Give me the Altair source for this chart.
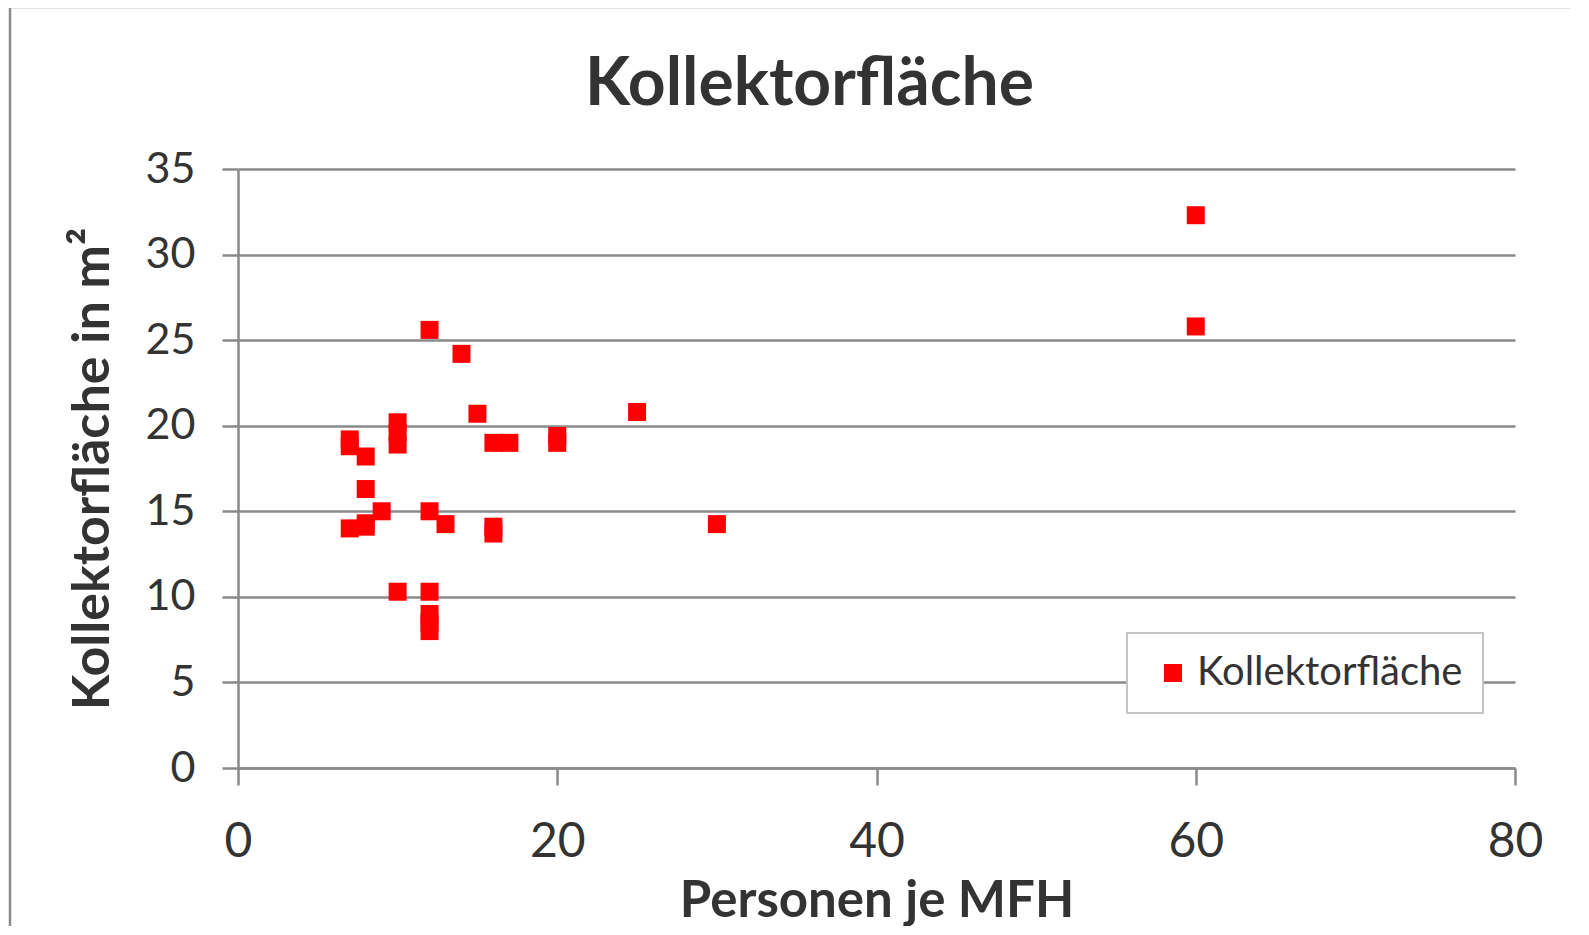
import altair as alt
import pandas as pd

# ---- data ----
personen = [7, 7, 7, 8, 8, 8, 8, 9, 10, 10, 10, 10, 12, 12, 12, 12, 12, 12,
            13, 14, 15, 16, 16, 16, 17, 20, 20, 25, 30, 60, 60]
flaeche = [19.2, 18.8, 14.0, 18.2, 16.3, 14.3, 14.1, 15.0, 20.2, 19.6, 18.9, 10.3,
           25.6, 15.0, 10.3, 9.0, 8.5, 8.0, 14.25, 24.2, 20.7, 19.0, 14.1, 13.7,
           19.0, 19.4, 19.0, 20.8, 14.25, 32.3, 25.8]
serie = "Kollektorfläche"
x_ticks = [0, 20, 40, 60, 80]
y_ticks = [0, 5, 10, 15, 20, 25, 30, 35]

df = pd.DataFrame({"Personen": personen, "Flaeche": flaeche,
                   "Serie": [serie] * len(personen)})

GRID = "#8a8a8a"
TEXT = "#333333"

points = alt.Chart(df).mark_square(size=324, opacity=1).encode(
    x=alt.X("Personen:Q",
            scale=alt.Scale(domain=[0, 80], nice=False, zero=True),
            axis=alt.Axis(values=x_ticks, title="Personen je MFH", grid=False,
                          tickSize=17, labelPadding=33, labelFontSize=48,
                          labelFlush=False, labelOverlap=False,
                          titleFontSize=51, titlePadding=10)),
    y=alt.Y("Flaeche:Q",
            scale=alt.Scale(domain=[0, 35], nice=False, zero=True),
            axis=alt.Axis(values=y_ticks, title="Kollektorfläche in m²", grid=True,
                          tickSize=16, labelPadding=27, labelFontSize=43,
                          labelFlush=False,
                          titleFontSize=52, titlePadding=26)),
    color=alt.Color("Serie:N",
                    scale=alt.Scale(domain=[serie], range=["#ff0000"]),
                    legend=alt.Legend(title=None, orient="none",
                                      legendX=889, legendY=464,
                                      strokeColor="#c4c4c4", fillColor="white",
                                      padding=20, labelFontSize=40,
                                      labelLimit=500,
                                      labelColor=TEXT, symbolType="square",
                                      symbolSize=324, symbolOffset=6,
                                      labelOffset=4, symbolStrokeWidth=0,
                                      symbolOpacity=1)),
)

border = alt.Chart(pd.DataFrame({"b": [0]})).mark_rect(
    fill="transparent", stroke=GRID, strokeWidth=2.5
).encode(
    x=alt.value(-228), x2=alt.value(1450),
    y=alt.value(-162), y2=alt.value(820),
)

chart = alt.layer(border, points).properties(
    width=1277, height=599,
    title=alt.TitleParams(serie, fontSize=66, font="Lato", fontWeight="bold",
                          color=TEXT, anchor="middle", frame="group",
                          baseline="alphabetic", dx=-67, offset=-165),
    autosize=alt.AutoSizeParams(type="none"),
    padding={"left": 230, "top": 161, "right": 55, "bottom": 158},
).configure(
    font="Lato", background="white"
).configure_view(
    stroke=None
).configure_axis(
    domainColor=GRID, domainWidth=2.5, tickColor=GRID, tickWidth=2.5,
    gridColor=GRID, gridWidth=2.5, labelColor=TEXT, titleColor=TEXT,
    labelFont="Lato", titleFont="Lato", titleFontWeight="bold",
    labelFontWeight="normal"
).configure_legend(
    strokeWidth=2
)

chart.save("out.html", embed_options={"renderer": "svg", "actions": False})
